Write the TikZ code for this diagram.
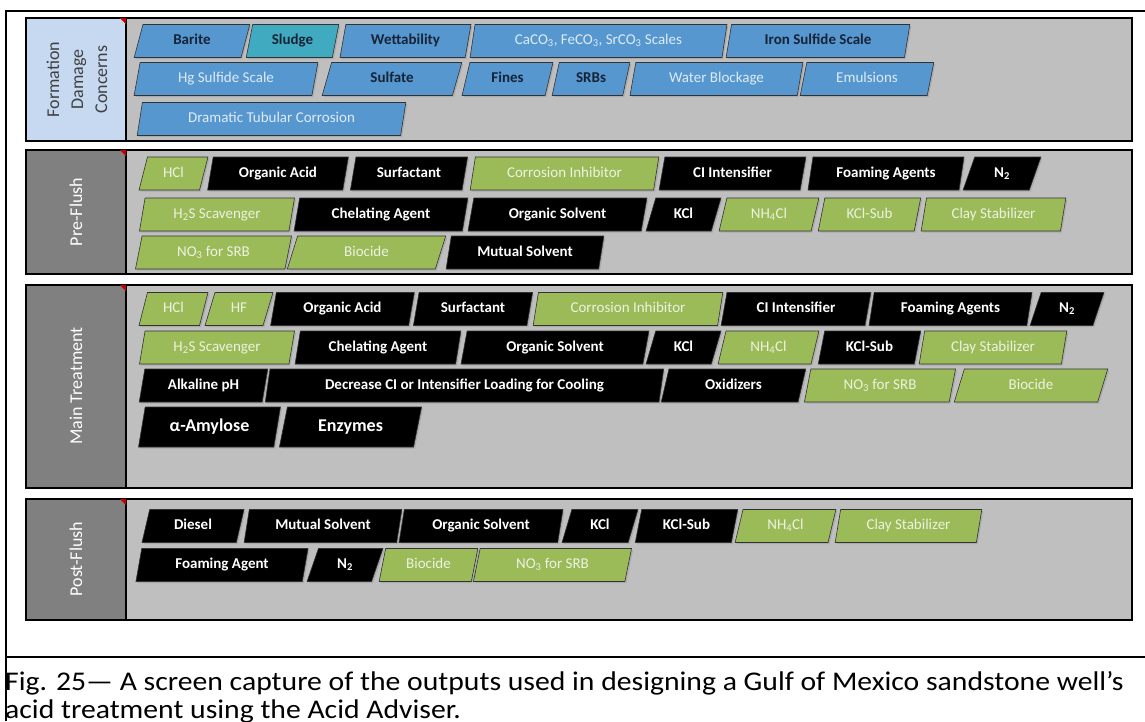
\documentclass[tikz,border=0pt]{standalone}
\usepackage{tikz}
\usepackage{xcolor}
\usepackage{fontspec}
\setmainfont{Carlito}
\usetikzlibrary{shapes,shadows}

\definecolor{chipblue}{RGB}{86,151,207}
\definecolor{chipteal}{RGB}{64,170,192}
\definecolor{chipgreen}{RGB}{155,187,89}
\definecolor{chipline}{RGB}{50,50,50}
\definecolor{darktext}{RGB}{23,35,55}
\definecolor{lighttext}{RGB}{222,235,247}
\definecolor{greentext}{RGB}{236,242,224}
\definecolor{panelgray}{RGB}{191,191,191}
\definecolor{labelgray}{RGB}{128,128,128}
\definecolor{labelblue}{RGB}{198,217,241}
\definecolor{labeltext}{RGB}{64,64,64}
\definecolor{markred}{RGB}{192,0,0}

\tikzset{
    chip/.style={trapezium, trapezium left angle=76, trapezium right angle=104,
        trapezium stretches=true, minimum height=33pt, inner sep=0pt,
        text height=10.5pt, text depth=3pt,
        draw=chipline, line width=0.6pt, font=\fontsize{15}{18}\selectfont,
        drop shadow={shadow xshift=1.5pt, shadow yshift=-1.5pt, opacity=0.3}},
    bluechip/.style={chip, fill=chipblue, text=darktext, font=\fontsize{15}{18}\selectfont\bfseries},
    paleblue/.style={chip, fill=chipblue, text=lighttext},
    tealchip/.style={chip, fill=chipteal, text=darktext, font=\fontsize{15}{18}\selectfont\bfseries},
    greenchip/.style={chip, fill=chipgreen, text=greentext},
    blackchip/.style={chip, fill=black, text=white, font=\fontsize{15}{18}\selectfont\bfseries},
    bigchip/.style={minimum height=40pt, text height=12.5pt, text depth=4pt,
        font=\fontsize{18}{21}\selectfont\bfseries},
    panel/.style={draw=black, line width=2pt, fill=panelgray},
    sidelabel/.style={rotate=90, align=center, font=\fontsize{18}{24}\selectfont, text=white},
    caption/.style={anchor=base west, inner sep=0pt, font=\fontsize{27}{30}\selectfont},
}

% name, style, top left x, top right x, middle y, text
\newcommand{\chip}[6]{\node[#2, minimum width={#4-#3+8}] (#1) at ({(#3-8+#4)/2},{#5}) {#6};}

\begin{document}
\begin{tikzpicture}[x=1pt,y=-1pt]
    \clip (0,0) rectangle (1145,721);
    \fill[white] (0,0) rectangle (1145,721);

    % frame of the figure
    \draw[line width=1.5pt] (6,721) -- (6,11) -- (1146,11);
    \draw[line width=1.5pt] (6,657) -- (1146,657);

    % formation damage concerns
    \draw[panel] (26,18) rectangle (1132,141);
    \draw[panel, fill=labelblue] (26,18) rectangle (126,141);
    \fill[markred] (120,18) -- (126,18) -- (126,24) -- cycle;
    \node[sidelabel, text=labeltext] (fdc) at (77,79.5) {Formation\\Damage\\Concerns};
    \chip{barite}{bluechip}{142}{250}{41}{Barite}
    \chip{sludge}{tealchip}{254}{339}{41}{Sludge}
    \chip{wett}{bluechip}{348}{471}{41}{Wettability}
    \chip{carb}{paleblue}{478}{727}{41}{CaCO\textsubscript{3}, FeCO\textsubscript{3}, SrCO\textsubscript{3} Scales}
    \chip{ironsulf}{bluechip}{734}{910}{41}{Iron Sulfide Scale}
    \chip{hgsulf}{paleblue}{142}{318}{79}{Hg Sulfide Scale}
    \chip{sulfate}{bluechip}{330}{462}{79}{Sulfate}
    \chip{fines}{bluechip}{470}{553}{79}{Fines}
    \chip{srbs}{bluechip}{560}{630}{79}{SRBs}
    \chip{waterblock}{paleblue}{638}{803}{79}{Water Blockage}
    \chip{emuls}{paleblue}{808}{934}{79}{Emulsions}
    \chip{corrosion}{paleblue}{145}{406}{119}{Dramatic Tubular Corrosion}

    % pre-flush
    \draw[panel] (26,150) rectangle (1132,274);
    \draw[panel, fill=labelgray] (26,150) rectangle (126,274);
    \fill[markred] (120,150) -- (126,150) -- (126,156) -- cycle;
    \node[sidelabel] (pre) at (76,212) {Pre-Flush};
    \chip{prehcl}{greenchip}{147}{208}{173.5}{HCl}
    \chip{preorgacid}{blackchip}{215}{349}{173.5}{Organic Acid}
    \chip{presurf}{blackchip}{358}{468}{173.5}{Surfactant}
    \chip{precorr}{greenchip}{478}{659}{173.5}{Corrosion Inhibitor}
    \chip{preciint}{blackchip}{667}{806}{173.5}{CI Intensifier}
    \chip{prefoam}{blackchip}{816}{964}{173.5}{Foaming Agents}
    \chip{pren}{blackchip}{971}{1041}{173.5}{N\textsubscript{2}}
    \chip{preh2s}{greenchip}{147}{295}{214.5}{H\textsubscript{2}S Scavenger}
    \chip{prechel}{blackchip}{302}{468}{214.5}{Chelating Agent}
    \chip{preorgsolv}{blackchip}{476}{647}{214.5}{Organic Solvent}
    \chip{prekcl}{blackchip}{654}{721}{214.5}{KCl}
    \chip{prenh}{greenchip}{727}{819}{214.5}{NH\textsubscript{4}Cl}
    \chip{prekclsub}{greenchip}{826}{921}{214.5}{KCl-Sub}
    \chip{preclay}{greenchip}{929}{1066}{214.5}{Clay Stabilizer}
    \chip{preno}{greenchip}{143}{292}{252.5}{NO\textsubscript{3} for SRB}
    \chip{prebio}{greenchip}{295}{446}{252.5}{Biocide}
    \chip{premut}{blackchip}{454}{604}{252.5}{Mutual Solvent}

    % main treatment
    \draw[panel] (26,285) rectangle (1132,488);
    \draw[panel, fill=labelgray] (26,285) rectangle (126,488);
    \fill[markred] (120,285) -- (126,285) -- (126,291) -- cycle;
    \node[sidelabel] (main) at (76,386) {Main Treatment};
    \chip{mhcl}{greenchip}{147}{208}{309}{HCl}
    \chip{mhf}{greenchip}{213}{273}{309}{HF}
    \chip{morgacid}{blackchip}{278}{415}{309}{Organic Acid}
    \chip{msurf}{blackchip}{421}{533}{309}{Surfactant}
    \chip{mcorr}{greenchip}{541}{723}{309}{Corrosion Inhibitor}
    \chip{mciint}{blackchip}{729}{871}{309}{CI Intensifier}
    \chip{mfoam}{blackchip}{877}{1032}{309}{Foaming Agents}
    \chip{mn}{blackchip}{1038}{1104}{309}{N\textsubscript{2}}
    \chip{mh2s}{greenchip}{147}{295}{347.5}{H\textsubscript{2}S Scavenger}
    \chip{mchel}{blackchip}{303}{461}{347.5}{Chelating Agent}
    \chip{morgsolv}{blackchip}{469}{649}{347.5}{Organic Solvent}
    \chip{mkcl}{blackchip}{654}{721}{347.5}{KCl}
    \chip{mnh}{greenchip}{726}{819}{347.5}{NH\textsubscript{4}Cl}
    \chip{mkclsub}{blackchip}{826}{921}{347.5}{KCl-Sub}
    \chip{mclay}{greenchip}{927}{1067}{347.5}{Clay Stabilizer}
    \chip{malk}{blackchip}{147}{268}{385.5}{Alkaline pH}
    \chip{mdecr}{blackchip}{273}{664}{385.5}{Decrease CI or Intensifier Loading for Cooling}
    \chip{moxid}{blackchip}{669}{806}{385.5}{Oxidizers}
    \chip{mno}{greenchip}{812}{956}{385.5}{NO\textsubscript{3} for SRB}
    \chip{mbio}{greenchip}{962}{1108}{385.5}{Biocide}
    \chip{mamyl}{blackchip, bigchip}{146}{281}{427}{α-Amylose}
    \chip{menz}{blackchip, bigchip}{287}{422}{427}{Enzymes}

    % post-flush
    \draw[panel] (26,499) rectangle (1132,620);
    \draw[panel, fill=labelgray] (26,499) rectangle (126,620);
    \fill[markred] (120,499) -- (126,499) -- (126,505) -- cycle;
    \node[sidelabel] (post) at (76,559) {Post-Flush};
    \chip{pdiesel}{blackchip}{150}{244}{526}{Diesel}
    \chip{pmut}{blackchip}{252}{402}{526}{Mutual Solvent}
    \chip{porgsolv}{blackchip}{407}{563}{526}{Organic Solvent}
    \chip{pkcl}{blackchip}{570}{638}{526}{KCl}
    \chip{pkclsub}{blackchip}{643}{738}{526}{KCl-Sub}
    \chip{pnh}{greenchip}{743}{836}{526}{NH\textsubscript{4}Cl}
    \chip{pclay}{greenchip}{843}{982}{526}{Clay Stabilizer}
    \chip{pfoam}{blackchip}{143}{309}{565}{Foaming Agent}
    \chip{pn}{blackchip}{315}{383}{565}{N\textsubscript{2}}
    \chip{pbio}{greenchip}{387}{478}{565}{Biocide}
    \chip{pno}{greenchip}{481}{632}{565}{NO\textsubscript{3} for SRB}

    % caption
    \node[caption] (cap1) at (5,690)
        {\scalebox{1.1}[1]{Fig. 25— A screen capture of the outputs used in designing a Gulf of Mexico sandstone well’s}};
    \node[caption] (cap2) at (5,718)
        {\scalebox{1.1}[1]{acid treatment using the Acid Adviser.}};
\end{tikzpicture}
\end{document}
